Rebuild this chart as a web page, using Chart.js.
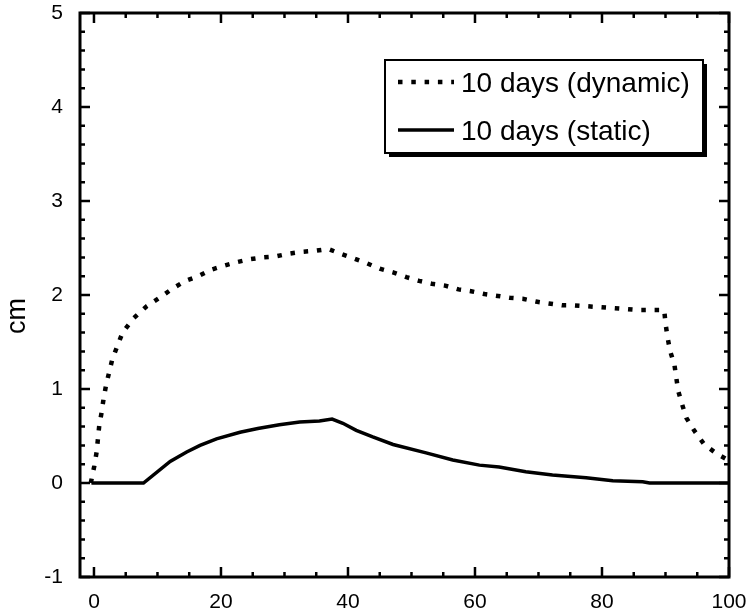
<!DOCTYPE html>
<html>
<head>
<meta charset="utf-8">
<script src="https://cdn.jsdelivr.net/npm/chart.js@4"></script>
<style>
  html, body { margin: 0; padding: 0; background: #fff; }
  #wrap { width: 748px; height: 614px; }
</style>
</head>
<body>
<div id="wrap"><canvas id="chart"></canvas></div>
<script>
// dynamic (dotted) series
const xDynamic = [-0.5, 0.05, 0.42, 0.83, 1.2, 1.5, 1.9, 2.4, 2.9, 3.7, 4.5, 6.2, 8.3, 10.3, 12.4, 14.4, 16.4, 18.5,
  20.4, 22.5, 24.5, 26.6, 28.6, 30.7, 32.8, 34.8, 36.9, 38.8, 40.9, 42.9, 45.0, 47.1, 49.2, 51.2, 53.2, 55.3,
  57.4, 59.4, 61.5, 63.6, 65.5, 67.5, 69.6, 71.6, 73.7, 75.6, 77.7, 79.8, 81.8, 83.9, 85.8, 87.9, 89.8,
  90.0, 90.3, 90.7, 91.4, 92.0, 92.6, 93.3, 94.5, 96.1, 98.1, 100];
const yDynamic = [0.0, 0.18, 0.33, 0.61, 0.75, 0.89, 1.04, 1.18, 1.32, 1.46, 1.60, 1.75, 1.88, 1.97, 2.07, 2.15, 2.20, 2.27,
  2.31, 2.35, 2.38, 2.40, 2.41, 2.44, 2.46, 2.47, 2.49, 2.44, 2.39, 2.34, 2.28, 2.24, 2.19, 2.15, 2.12, 2.10,
  2.06, 2.04, 2.01, 1.99, 1.97, 1.96, 1.93, 1.91, 1.89, 1.89, 1.88, 1.87, 1.86, 1.85, 1.84, 1.84, 1.84,
  1.70, 1.56, 1.41, 1.26, 0.98, 0.84, 0.69, 0.56, 0.41, 0.31, 0.24];

// static (solid) series
const xStatic = [-0.4, 7.8, 12.0, 14.6, 16.7, 19.3, 23.0, 25.8, 29.2, 32.4, 35.5, 37.5, 39.2, 41.3, 43.9, 47.1,
  52.3, 56.5, 60.7, 63.8, 68.0, 72.2, 77.5, 81.7, 86.4, 87.5, 100];
const yStatic = [0, 0, 0.23, 0.33, 0.40, 0.47, 0.54, 0.58, 0.62, 0.65, 0.66, 0.68, 0.635, 0.56, 0.49, 0.41,
  0.32, 0.245, 0.19, 0.17, 0.12, 0.085, 0.056, 0.025, 0.014, 0, 0];

const xTickValues = [0, 20, 40, 60, 80, 100];
const yTickValues = [-1, 0, 1, 2, 3, 4, 5];
const legendLabels = ["10 days (dynamic)", "10 days (static)"];

const FONT = "'Liberation Sans', Arial, sans-serif";

function toPoints(xs, ys) {
  return xs.map((x, i) => ({ x: x, y: ys[i] }));
}

// frame, inward ticks on all four sides, y title and boxed legend
const decorations = {
  id: "decorations",
  afterDraw(chart) {
    const ctx = chart.ctx;
    const area = chart.chartArea;
    const xs = chart.scales.x;
    const ys = chart.scales.y;
    ctx.save();
    ctx.strokeStyle = "#000";
    ctx.lineWidth = 3;
    ctx.strokeRect(area.left, area.top, area.right - area.left, area.bottom - area.top);

    ctx.lineWidth = 2.5;
    ctx.beginPath();
    for (let v = 0; v <= 100; v += 5) {
      const px = xs.getPixelForValue(v);
      const len = v % 20 === 0 ? 10 : 5;
      ctx.moveTo(px, area.bottom); ctx.lineTo(px, area.bottom - len);
      ctx.moveTo(px, area.top); ctx.lineTo(px, area.top + len);
    }
    for (let i = -5; i <= 25; i++) {
      const v = i / 5;
      const py = ys.getPixelForValue(v);
      const len = i % 5 === 0 ? 10 : 5;
      ctx.moveTo(area.left, py); ctx.lineTo(area.left + len, py);
      ctx.moveTo(area.right, py); ctx.lineTo(area.right - len, py);
    }
    ctx.stroke();

    // y axis title
    ctx.fillStyle = "#000";
    ctx.font = "27px " + FONT;
    ctx.textAlign = "center";
    ctx.textBaseline = "middle";
    ctx.translate(18, 316);
    ctx.rotate(-Math.PI / 2);
    ctx.fillText("cm", 0, 0);
    ctx.setTransform(1, 0, 0, 1, 0, 0);

    // legend box with shadow
    const bx = 385, by = 60, bw = 318, bh = 93;
    ctx.fillStyle = "#000";
    ctx.fillRect(bx + 4, by + 4, bw, bh);
    ctx.fillStyle = "#fff";
    ctx.fillRect(bx, by, bw, bh);
    ctx.lineWidth = 2;
    ctx.strokeRect(bx, by, bw, bh);

    const rows = [82, 130];
    chart.data.datasets.forEach((ds, i) => {
      ctx.beginPath();
      ctx.lineWidth = ds.borderWidth;
      ctx.setLineDash(ds.borderDash || []);
      ctx.lineCap = "butt";
      ctx.moveTo(398, rows[i]);
      ctx.lineTo(454, rows[i]);
      ctx.stroke();
      ctx.setLineDash([]);
      ctx.fillStyle = "#000";
      ctx.font = "28px " + FONT;
      ctx.textAlign = "left";
      ctx.textBaseline = "alphabetic";
      ctx.fillText(ds.label, 461, rows[i] + 10);
    });
    ctx.restore();
  }
};

new Chart(document.getElementById("chart"), {
  type: "line",
  data: {
    datasets: [
      {
        label: legendLabels[0],
        data: toPoints(xDynamic, yDynamic),
        borderColor: "#000",
        borderWidth: 4.5,
        borderDash: [4.5, 8.8],
        borderCapStyle: "butt",
        pointRadius: 0,
        tension: 0,
        fill: false
      },
      {
        label: legendLabels[1],
        data: toPoints(xStatic, yStatic),
        borderColor: "#000",
        borderWidth: 3.5,
        pointRadius: 0,
        tension: 0,
        fill: false
      }
    ]
  },
  options: {
    responsive: true,
    maintainAspectRatio: false,
    animation: false,
    layout: { padding: { top: 13, right: 19, left: 0, bottom: 0 } },
    plugins: {
      legend: { display: false },
      tooltip: { enabled: false }
    },
    scales: {
      x: {
        type: "linear",
        min: -2.2,
        max: 100,
        grid: { display: false, drawTicks: false },
        border: { display: false },
        afterBuildTicks: s => { s.ticks = xTickValues.map(v => ({ value: v })); },
        afterFit: s => { s.height = 37; s.paddingLeft = 0; s.paddingRight = 0; },
        ticks: {
          color: "#000",
          font: { family: FONT, size: 21 },
          padding: 13,
          maxRotation: 0
        }
      },
      y: {
        type: "linear",
        min: -1,
        max: 5,
        grid: { display: false, drawTicks: false },
        border: { display: false },
        afterBuildTicks: s => { s.ticks = yTickValues.map(v => ({ value: v })); },
        afterFit: s => { s.width = 80; s.paddingTop = 0; s.paddingBottom = 0; },
        ticks: {
          color: "#000",
          font: { family: FONT, size: 21 },
          padding: 17
        }
      }
    }
  },
  plugins: [decorations]
});
</script>
</body>
</html>
